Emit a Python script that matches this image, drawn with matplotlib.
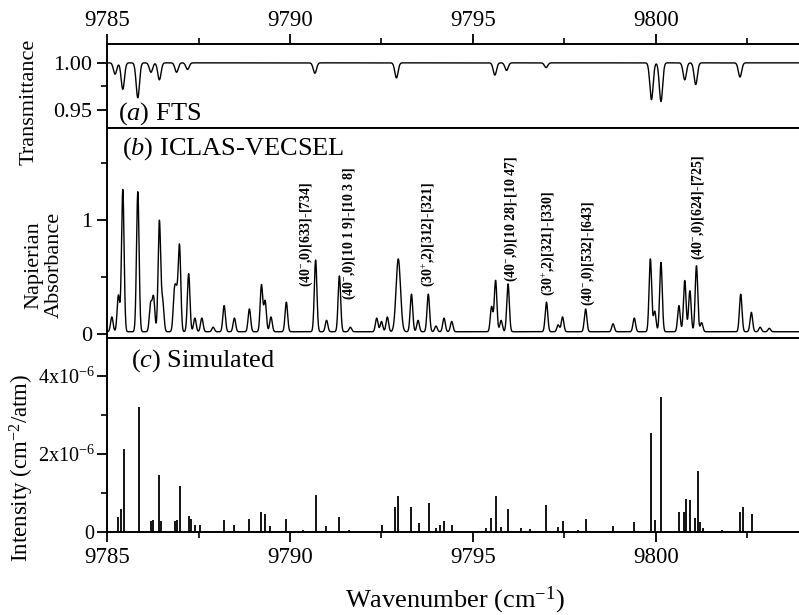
import numpy as np
import matplotlib
matplotlib.use('Agg')
import matplotlib.pyplot as plt
from matplotlib.ticker import MultipleLocator, FixedLocator

plt.rcParams['font.family'] = ['Liberation Serif', 'DejaVu Serif']
plt.rcParams['mathtext.fontset'] = 'custom'
plt.rcParams['mathtext.rm'] = 'Liberation Serif'
plt.rcParams['mathtext.it'] = 'Liberation Serif:italic'
plt.rcParams['mathtext.bf'] = 'Liberation Serif:bold'

# (a) FTS transmittance dips: centre, depth
fts_pos = [9785.22, 9785.43, 9785.84, 9786.20, 9786.43, 9786.90, 9787.20,
           9790.68, 9792.91, 9795.60, 9795.92, 9797.00, 9799.88, 9800.14,
           9800.79, 9801.09, 9802.30]
fts_depth = [0.012, 0.028, 0.037, 0.010, 0.018, 0.010, 0.007,
             0.011, 0.016, 0.013, 0.008, 0.005, 0.039, 0.041,
             0.018, 0.023, 0.015]

# (b) ICLAS-VECSEL absorbance peaks: centre, height
icl_pos = [9785.13, 9785.31, 9785.43, 9785.84, 9786.19, 9786.27, 9786.43,
           9786.52, 9786.84, 9786.90, 9786.98, 9787.23, 9787.40, 9787.59,
           9787.90, 9788.20, 9788.48, 9788.89, 9789.22, 9789.32, 9789.48,
           9789.90, 9790.70, 9791.00, 9791.35, 9791.65, 9792.37, 9792.50,
           9792.66, 9792.96, 9793.32, 9793.50, 9793.78, 9793.99, 9794.21,
           9794.42, 9795.51, 9795.62, 9795.77, 9795.96, 9797.01, 9797.33,
           9797.45, 9798.08, 9798.83, 9799.41, 9799.85, 9799.97, 9800.14,
           9800.63, 9800.79, 9800.93, 9801.11, 9801.25, 9802.32, 9802.61,
           9802.85, 9803.10]
icl_height = [0.13, 0.32, 1.25, 1.23, 0.24, 0.30, 0.97,
              0.26, 0.32, 0.28, 0.75, 0.51, 0.12, 0.12,
              0.04, 0.23, 0.12, 0.20, 0.41, 0.27, 0.13,
              0.26, 0.63, 0.10, 0.49, 0.04, 0.12, 0.09,
              0.13, 0.64, 0.33, 0.10, 0.33, 0.05, 0.12,
              0.09, 0.22, 0.45, 0.10, 0.42, 0.26, 0.06,
              0.13, 0.20, 0.07, 0.12, 0.64, 0.18, 0.61,
              0.23, 0.45, 0.36, 0.58, 0.08, 0.33, 0.17,
              0.04, 0.03]
icl_width = [0.035] * len(icl_pos)
icl_width[29] = 0.06

# assignment labels: text, x centre, bottom value
lab_text = ['(40$^{-}$,0)[633]-[734]', '(40$^{-}$,0)[10 1 9]-[10 3 8]',
            '(30$^{+}$,2)[312]-[321]', '(40$^{-}$,0)[10 28]-[10 47]',
            '(30$^{+}$,2)[321]-[330]', '(40$^{-}$,0)[532]-[643]',
            '(40$^{-}$,0)[624]-[725]']
lab_x = [9790.45, 9791.62, 9793.77, 9796.05, 9797.06, 9798.15, 9801.16]
lab_y = [0.41, 0.30, 0.41, 0.46, 0.33, 0.25, 0.65]

# (c) simulated line intensities (x1e-6 cm-2/atm)
sim_pos = [9785.31, 9785.38, 9785.45, 9785.86, 9786.20, 9786.25, 9786.42,
           9786.48, 9786.86, 9786.90, 9786.99, 9787.25, 9787.30, 9787.41,
           9787.55, 9788.20, 9788.47, 9788.88, 9789.21, 9789.32, 9789.45,
           9789.90, 9790.35, 9790.70, 9790.99, 9791.34, 9791.60, 9792.51,
           9792.88, 9792.95, 9793.31, 9793.52, 9793.79, 9793.99, 9794.10,
           9794.21, 9794.42, 9795.37, 9795.50, 9795.63, 9795.77, 9795.96,
           9796.31, 9796.55, 9797.01, 9797.32, 9797.46, 9797.88, 9798.09,
           9798.83, 9799.40, 9799.88, 9799.97, 9800.15, 9800.63, 9800.77,
           9800.83, 9800.93, 9801.08, 9801.15, 9801.21, 9801.30, 9801.80,
           9802.30, 9802.37, 9802.64]
sim_int = [0.39, 0.58, 2.13, 3.20, 0.29, 0.31, 1.45,
           0.27, 0.29, 0.31, 1.18, 0.41, 0.33, 0.18,
           0.18, 0.31, 0.17, 0.33, 0.52, 0.46, 0.15,
           0.33, 0.06, 0.96, 0.16, 0.39, 0.06, 0.18,
           0.65, 0.92, 0.63, 0.22, 0.74, 0.09, 0.17,
           0.27, 0.18, 0.10, 0.36, 0.91, 0.14, 0.59,
           0.09, 0.07, 0.69, 0.14, 0.28, 0.06, 0.33,
           0.16, 0.25, 2.53, 0.30, 3.47, 0.50, 0.52,
           0.84, 0.82, 0.35, 1.55, 0.25, 0.10, 0.05,
           0.52, 0.65, 0.46]

wn = np.linspace(9785, 9804, 6000)

trans = np.full_like(wn, 1.0)
for c, d in zip(fts_pos, fts_depth):
    trans -= d * np.exp(-0.5 * ((wn - c) / 0.045) ** 2)

absb = np.full_like(wn, 0.02)
for c, h, w in zip(icl_pos, icl_height, icl_width):
    absb += h * np.exp(-0.5 * ((wn - c) / w) ** 2)

fig = plt.figure(figsize=(7.99, 6.15), dpi=100)
left, width = 0.134, 0.87
axa = fig.add_axes([left, 0.7919, width, 0.1366])
axb = fig.add_axes([left, 0.4504, width, 0.3415])
axc = fig.add_axes([left, 0.135, width, 0.3154])

for ax in (axa, axb, axc):
    ax.set_xlim(9785, 9804)
    for s in ax.spines.values():
        s.set_linewidth(1.4)
    ax.spines['right'].set_visible(False)
    ax.tick_params(which='major', length=7, width=1.3, labelsize=16, direction='out')
    ax.tick_params(which='minor', length=4, width=1.2, direction='out')
    ax.xaxis.set_major_locator(MultipleLocator(5))
    ax.xaxis.set_minor_locator(MultipleLocator(2.5))

# panel a
axa.plot(wn, trans, color='black', lw=1.0)
axa.set_ylim(0.931, 1.02)
axa.yaxis.set_major_locator(FixedLocator([0.95, 1.00]))
axa.yaxis.set_minor_locator(FixedLocator([0.975]))
axa.set_yticklabels(['0.95', '1.00'])
axa.xaxis.tick_top()
axa.tick_params(axis='x', which='major', labelsize=16.5, pad=2)
axa.text(9785.3, 0.946, '($a$) FTS', fontsize=19, va='center')

# panel b
axb.plot(wn, absb, color='black', lw=1.0)
axb.set_ylim(-0.035, 1.81)
axb.yaxis.set_major_locator(FixedLocator([0, 1]))
axb.yaxis.set_minor_locator(FixedLocator([0.5, 1.5]))
axb.tick_params(axis='x', which='both', bottom=False, labelbottom=False)
axb.text(9785.4, 1.63, '($b$) ICLAS-VECSEL', fontsize=19, va='center')
for t, x, y in zip(lab_text, lab_x, lab_y):
    axb.text(x, y, t, rotation=90, fontsize=10, fontweight='bold',
             ha='center', va='bottom')

# panel c
axc.vlines(sim_pos, 0, np.array(sim_int) * 1e-6, color='black', lw=1.3)
axc.set_ylim(0, 4.97e-6)
axc.yaxis.set_major_locator(FixedLocator([0, 2e-6, 4e-6]))
axc.yaxis.set_minor_locator(FixedLocator([1e-6, 3e-6]))
axc.set_yticklabels(['0', '2x10$^{-6}$', '4x10$^{-6}$'])
axc.tick_params(axis='y', which='major', labelsize=14.5, pad=2)
axc.tick_params(axis='x', which='major', labelsize=16.5)
axc.text(9785.65, 4.4e-6, '($c$) Simulated', fontsize=19, va='center')
axc.set_xlabel('Wavenumber (cm$^{-1}$)', fontsize=19, labelpad=12)

fig.text(0.036, 1 - 102 / 615, 'Transmittance', rotation=90, fontsize=16,
         ha='center', va='center')
fig.text(0.055, 1 - 265 / 615, 'Napierian\nAbsorbance', rotation=90, fontsize=16,
         ha='center', va='center', linespacing=1.1)
fig.text(0.028, 1 - 468 / 615, 'Intensity (cm$^{-2}$/atm)', rotation=90,
         fontsize=16.5, ha='center', va='center')

fig.savefig('out.png', dpi=100)
